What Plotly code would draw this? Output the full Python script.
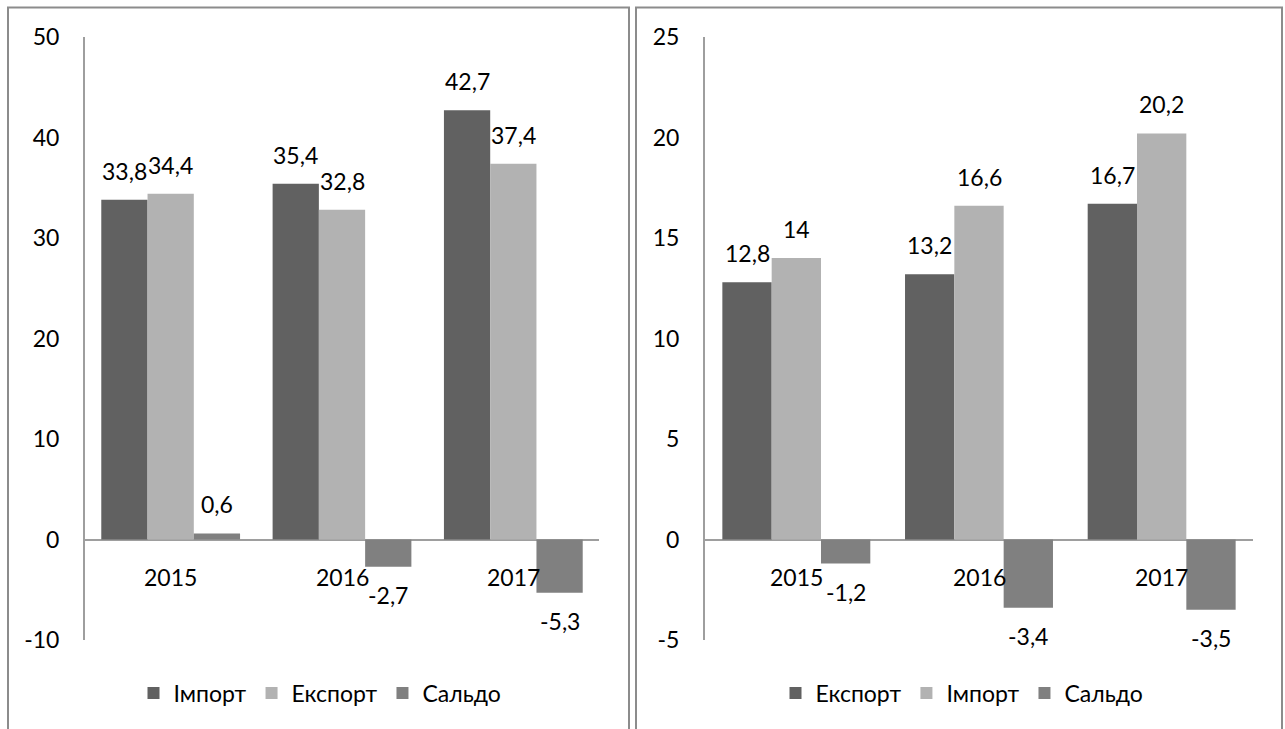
import plotly.graph_objects as go

years = ["2015", "2016", "2017"]
# Left chart
left_names = ["Імпорт", "Експорт", "Сальдо"]
left_import = [33.8, 35.4, 42.7]
left_export = [34.4, 32.8, 37.4]
left_saldo = [0.6, -2.7, -5.3]
left_ticks = [-10, 0, 10, 20, 30, 40, 50]
left_ticktext = ["-10", "0", "10", "20", "30", "40", "50"]
# Right chart
right_names = ["Експорт", "Імпорт", "Сальдо"]
right_export = [12.8, 13.2, 16.7]
right_import = [14, 16.6, 20.2]
right_saldo = [-1.2, -3.4, -3.5]
right_ticks = [-5, 0, 5, 10, 15, 20, 25]
right_ticktext = ["-5", "0", "5", "10", "15", "20", "25"]

colors = ["#616161", "#b2b2b2", "#808080"]
FONT = "Lato"
FS = 23
W = 1285
H = 729

def fmt(v):
    return ("%g" % v).replace(".", ",")

fig = go.Figure()
annotations = []
bw = 0.27
xs = [0, 1, 2]

def add_panel(series, names, xa, ya, legend):
    for k, (vals, name) in enumerate(zip(series, names)):
        off = (k - 1.5) * bw
        fig.add_trace(go.Bar(
            x=xs, y=vals, width=bw, offset=off, name=name,
            marker=dict(color=colors[k], line=dict(width=0)),
            xaxis=xa, yaxis=ya, legend=legend, showlegend=True,
        ))
        for i, v in enumerate(vals):
            annotations.append(dict(
                x=i + (k - 1) * bw, y=v, xref=xa, yref=ya,
                text=fmt(v), showarrow=False,
                yshift=29 if v >= 0 else -28,
                font=dict(family=FONT, size=FS, color="black"),
            ))
    for i, yr in enumerate(years):
        annotations.append(dict(
            x=i, y=0, xref=xa, yref=ya, text=yr, showarrow=False,
            yshift=-37, font=dict(family=FONT, size=FS, color="black"),
        ))

add_panel([left_import, left_export, left_saldo], left_names, "x", "y", "legend")
add_panel([right_export, right_import, right_saldo], right_names, "x2", "y2", "legend2")

ydom = [(H - 640) / H, (H - 37) / H]

axis_y = dict(
    showgrid=False, zeroline=True, zerolinecolor="#9e9e9e", zerolinewidth=2,
    showline=True, linecolor="#9e9e9e", linewidth=2, ticks="",
    tickfont=dict(family=FONT, size=FS, color="black"),
    ticklabelstandoff=19, domain=ydom, automargin=False,
)
axis_x = dict(showgrid=False, zeroline=False, showline=False, showticklabels=False,
              range=[-0.5, 2.5], ticks="", automargin=False)

legend_common = dict(orientation="h", xref="container", yref="container",
                     y=(H - 693) / H, xanchor="center", yanchor="middle",
                     font=dict(family=FONT, size=FS, color="black"),
                     bgcolor="rgba(0,0,0,0)", itemwidth=30)

fig.update_layout(
    width=W, height=H,
    margin=dict(l=0, r=0, t=0, b=0, autoexpand=False),
    paper_bgcolor="white", plot_bgcolor="white",
    barmode="overlay",
    xaxis=dict(axis_x, domain=[85 / W, 599 / W], anchor="y"),
    yaxis=dict(axis_y, range=[-10, 50], tickvals=left_ticks, ticktext=left_ticktext, anchor="x"),
    xaxis2=dict(axis_x, domain=[705 / W, 1253 / W], anchor="y2"),
    yaxis2=dict(axis_y, range=[-5, 25], tickvals=right_ticks, ticktext=right_ticktext, anchor="x2"),
    legend=dict(legend_common, x=320 / W),
    legend2=dict(legend_common, x=962 / W),
    annotations=annotations,
    shapes=[
        dict(type="rect", xref="paper", yref="paper", x0=8 / W, x1=629 / W, y0=-0.05, y1=(H - 7.5) / H,
             line=dict(color="#8c8c8c", width=2)),
        dict(type="rect", xref="paper", yref="paper", x0=636 / W, x1=1282 / W, y0=-0.05, y1=(H - 7.5) / H,
             line=dict(color="#8c8c8c", width=2)),
    ],
    font=dict(family=FONT, size=FS, color="black"),
)

fig.write_html("out.html")
